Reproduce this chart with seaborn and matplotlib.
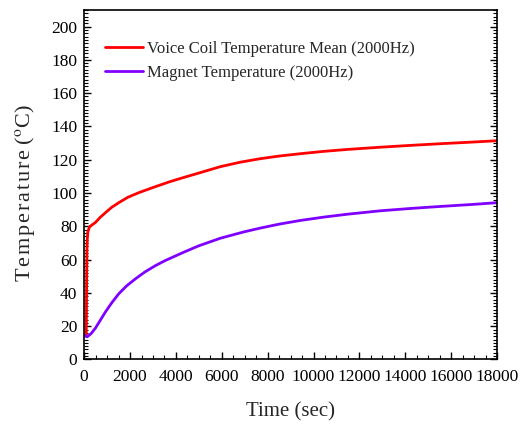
import seaborn as sns
import matplotlib.pyplot as plt
import pandas as pd
from matplotlib.ticker import MultipleLocator

# values
time_coil = [0, 90, 100, 110, 120, 135, 160, 230, 490, 700, 930, 1200, 1510, 1900,
             2380, 3000, 3690, 4185, 5000, 5930, 6800, 7670, 8500, 9420, 10430,
             11500, 12900, 14210, 15500, 16800, 18000]
temp_coil = [14.6, 14.8, 30, 50, 65, 72, 76.5, 79.7, 82.3, 85.4, 88.2, 91.4, 94.2, 97.4,
             100.2, 103.3, 106.6, 108.7, 112, 115.8, 118.5, 120.6, 122.2, 123.6, 125,
             126.2, 127.5, 128.6, 129.6, 130.5, 131.4]

time_mag = [0, 130, 300, 490, 700, 930, 1200, 1510, 1850, 2240, 2650, 3110, 3530,
            4270, 4690, 5000, 5930, 6950, 7670, 8500, 9420, 10430, 11500, 12900,
            14210, 15500, 17000, 18000]
temp_mag = [14.6, 13.6, 15.5, 18.8, 23.5, 28.6, 34, 39.5, 44.2, 48.5, 52.6, 56.4, 59.4,
            64, 66.5, 68.3, 72.8, 76.6, 78.9, 81.3, 83.5, 85.5, 87.3, 89.3,
            90.7, 91.9, 93.2, 94.2]

coil = pd.DataFrame({"time": time_coil, "temp": temp_coil})
mag = pd.DataFrame({"time": time_mag, "temp": temp_mag})

sns.set_style("ticks")
plt.rcParams['font.family'] = ['Liberation Serif', 'DejaVu Serif']
plt.rcParams['mathtext.fontset'] = 'stix'

fig = plt.figure(figsize=(5.26, 4.30), dpi=100)
ax = fig.add_axes([0.16, 0.164, 0.785, 0.813])

sns.lineplot(data=coil, x="time", y="temp", color="#ff0000", lw=2,
             label="Voice Coil Temperature Mean (2000Hz)", ax=ax)
sns.lineplot(data=mag, x="time", y="temp", color="#8000ff", lw=2,
             label="Magnet Temperature (2000Hz)", ax=ax)

ax.set_xlim(0, 18000)
ax.set_ylim(0, 210)
ax.xaxis.set_major_locator(MultipleLocator(2000))
ax.xaxis.set_minor_locator(MultipleLocator(500))
ax.yaxis.set_major_locator(MultipleLocator(20))
ax.yaxis.set_minor_locator(MultipleLocator(2))
ax.tick_params(which='both', direction='in', right=True, top=False,
               labelsize=12.5, colors='black')
ax.tick_params(which='major', length=5, width=1)
ax.tick_params(which='minor', length=3, width=0.8)
ax.tick_params(axis='x', which='major', pad=7)
ax.tick_params(axis='y', which='major', pad=5)
for s in ax.spines.values():
    s.set_linewidth(1.2)
    s.set_color('black')

hs = "\u200a"
ylab = hs.join("Temperature") + " ($^{\\rm o}$C)"
ax.set_xlabel("Time (sec)", fontsize=15, labelpad=12)
ax.set_ylabel(ylab, fontsize=16)
ax.yaxis.set_label_coords(-0.115, 0.475)

ax.legend(loc='upper left', bbox_to_anchor=(0.013, 0.955), frameon=False,
          fontsize=12, handlelength=2.3, handletextpad=0.25, labelspacing=0.5)

fig.savefig("out.png", dpi=100)
